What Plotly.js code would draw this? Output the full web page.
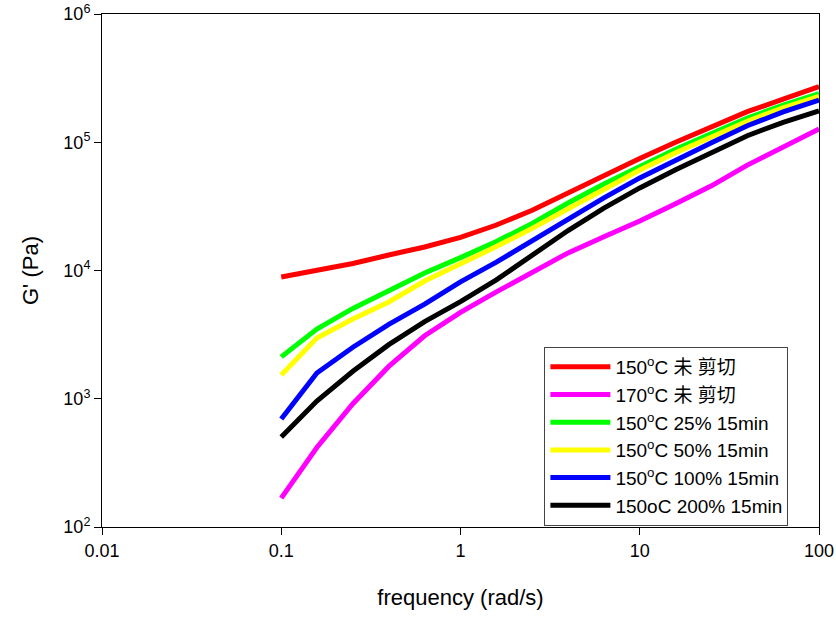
<!DOCTYPE html>
<html>
<head>
<meta charset="utf-8">
<script src="https://cdn.plot.ly/plotly-3.0.1.min.js"></script>
<style>html,body{margin:0;padding:0;background:#fff;}#chart{width:836px;height:617px;}</style>
</head>
<body>
<div id="chart"></div>
<script>
// frequency (rad/s)
const freq = [0.1, 0.158, 0.251, 0.398, 0.631, 1, 1.585, 2.512, 3.981, 6.31, 10, 15.85, 25.12, 39.81, 63.1, 100];

// G' (Pa) per sample
const g150Unsheared = [8890, 10050, 11340, 13220, 15250, 18150, 22640, 29510, 40070, 55600, 74620, 100000, 133100, 173300, 216600, 271700];
const g170Unsheared = [168, 417, 914, 1787, 3100, 4710, 6810, 9700, 13710, 18300, 24300, 33200, 45730, 66330, 92860, 126900];
const g150s25 = [2120, 3500, 5060, 6920, 9570, 12590, 16800, 23290, 33600, 47170, 64830, 88100, 116800, 154100, 195100, 239900];
const g150s50 = [1530, 2980, 4190, 5680, 8280, 11240, 15360, 21300, 30300, 43570, 60780, 82910, 110300, 145900, 185300, 228200];
const g150s100 = [695, 1589, 2523, 3800, 5470, 8150, 11610, 17180, 25290, 36860, 52720, 73090, 99150, 134500, 172500, 213500];
const g150s200 = [504, 960, 1637, 2643, 4000, 5720, 8450, 13120, 20500, 30610, 44060, 61090, 82910, 112500, 143100, 175300];

const seriesNames = [
  "150<sup>o</sup>C 未 剪切",
  "170<sup>o</sup>C 未 剪切",
  "150<sup>o</sup>C 25% 15min",
  "150<sup>o</sup>C 50% 15min",
  "150<sup>o</sup>C 100% 15min",
  "150oC 200% 15min"
];
const seriesValues = [g150Unsheared, g170Unsheared, g150s25, g150s50, g150s100, g150s200];
const seriesColors = ["#ff0000", "#ff00ff", "#00ff00", "#ffff00", "#0000ff", "#000000"];

const xTickVals = [0.01, 0.1, 1, 10, 100];
const xTickText = ["0.01", "0.1", "1", "10", "100"];
const yTickVals = [100, 1000, 10000, 100000, 1000000];
const yTickText = ["10<sup>2</sup>", "10<sup>3</sup>", "10<sup>4</sup>", "10<sup>5</sup>", "10<sup>6</sup>"];

const FONT = "Arial, 'Liberation Sans', 'Noto Sans CJK SC', sans-serif";

const traces = seriesValues.map((vals, i) => ({
  x: freq,
  y: vals,
  type: "scatter",
  mode: "lines",
  name: seriesNames[i],
  line: {color: seriesColors[i], width: 5, shape: "linear"}
}));

const layout = {
  width: 836,
  height: 617,
  margin: {l: 102, r: 17, t: 14, b: 90},
  paper_bgcolor: "#ffffff",
  plot_bgcolor: "#ffffff",
  font: {family: FONT, size: 18, color: "#000"},
  showlegend: true,
  legend: {
    x: 0.617, y: 0.351, xanchor: "left", yanchor: "top",
    bgcolor: "#ffffff", bordercolor: "#444", borderwidth: 1,
    font: {family: FONT, size: 19, color: "#000"},
    itemwidth: 60,
    tracegroupgap: 0
  },
  xaxis: {
    type: "log",
    range: [-2, 2],
    tickvals: xTickVals,
    ticktext: xTickText,
    ticks: "outside",
    ticklen: 7,
    tickcolor: "#000",
    showline: true,
    linecolor: "#000",
    linewidth: 1,
    mirror: true,
    showgrid: false,
    zeroline: false,
    tickfont: {family: FONT, size: 18, color: "#000"},
    title: {text: "frequency (rad/s)", font: {family: FONT, size: 22, color: "#000"}, standoff: 30}
  },
  yaxis: {
    type: "log",
    range: [2, 6],
    tickvals: yTickVals,
    ticktext: yTickText,
    ticks: "outside",
    ticklen: 7,
    tickcolor: "#000",
    showline: true,
    linecolor: "#000",
    linewidth: 1,
    mirror: true,
    showgrid: false,
    zeroline: false,
    tickfont: {family: FONT, size: 18, color: "#000"},
    title: {text: "G' (Pa)", font: {family: FONT, size: 22, color: "#000"}, standoff: 18}
  }
};

Plotly.newPlot("chart", traces, layout, {displayModeBar: false, staticPlot: true});
</script>
</body>
</html>
